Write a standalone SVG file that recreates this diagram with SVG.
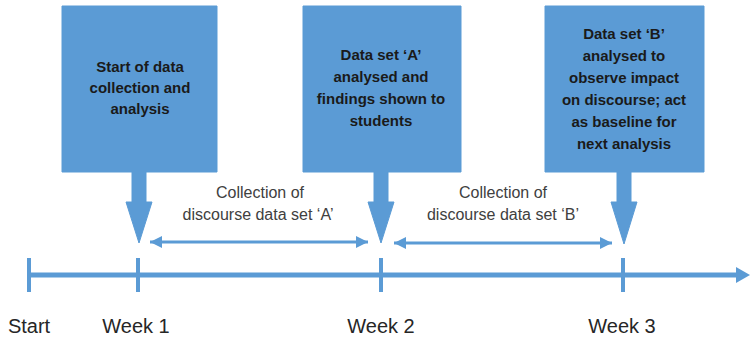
<svg xmlns="http://www.w3.org/2000/svg" width="750" height="342" viewBox="0 0 750 342">
<defs>
<style>
.shape{fill:#5B9BD5;stroke:#5B9BD5;stroke-width:1;stroke-linejoin:miter}
.box{font-family:"Liberation Sans",Arial,sans-serif;font-weight:bold;font-size:15px;fill:#1a1a1a;text-anchor:middle}
.lbl{font-family:"Liberation Sans",Arial,sans-serif;font-size:16px;fill:#404040;text-anchor:middle}
.wk{font-family:"Liberation Sans",Arial,sans-serif;font-size:20px;fill:#262626;text-anchor:middle}
.ln{stroke:#5B9BD5;fill:none}
</style>
<marker id="ah" viewBox="0 0 10 10" refX="10" refY="5" markerWidth="4" markerHeight="4" orient="auto-start-reverse" markerUnits="strokeWidth">
<path d="M0,0 L10,5 L0,10 z" fill="#5B9BD5"/>
</marker>
<marker id="bigah" viewBox="0 0 10 10" refX="10" refY="5" markerWidth="3" markerHeight="3.2" orient="auto" markerUnits="strokeWidth">
<path d="M0,0 L10,5 L0,10 z" fill="#5B9BD5"/>
</marker>
</defs>

<g id="timeline">
<line class="ln" x1="29" y1="275" x2="737" y2="275" stroke-width="5"/>
<path d="M736,267 L750,275 L736,283 z" fill="#5B9BD5"/>
<line class="ln" x1="29" y1="258" x2="29" y2="292" stroke-width="4"/>
<line class="ln" x1="138" y1="258" x2="138" y2="292" stroke-width="4"/>
<line class="ln" x1="381" y1="258" x2="381" y2="292" stroke-width="4"/>
<line class="ln" x1="623" y1="258" x2="623" y2="292" stroke-width="4"/>
<text class="wk" x="29" y="333">Start</text>
<text class="wk" x="136" y="333">Week 1</text>
<text class="wk" x="381" y="333">Week 2</text>
<text class="wk" x="622" y="333">Week 3</text>
</g>

<g id="node1">
<path class="shape" d="M62,6 H217 V172 H146 V202 H152 L139,243 L126,202 H132 V172 H62 Z"/>
<text class="box" x="140" y="72">Start of data</text>
<text class="box" x="140" y="93">collection and</text>
<text class="box" x="140" y="114">analysis</text>
</g>

<g id="node2">
<path class="shape" d="M303,6 H461 V172 H388 V202 H394 L381,243 L368,202 H374 V172 H303 Z"/>
<text class="box" x="381" y="60">Data set ‘A’</text>
<text class="box" x="381" y="82">analysed and</text>
<text class="box" x="381" y="104">findings shown to</text>
<text class="box" x="381" y="126">students</text>
</g>

<g id="node3">
<path class="shape" d="M545,6 H704 V172 H631 V202 H637 L624,244 L611,202 H617 V172 H545 Z"/>
<text class="box" x="624" y="39">Data set ‘B’</text>
<text class="box" x="624" y="61">analysed to</text>
<text class="box" x="624" y="83">observe impact</text>
<text class="box" x="624" y="105">on discourse; act</text>
<text class="box" x="624" y="127">as baseline for</text>
<text class="box" x="624" y="149">next analysis</text>
</g>

<g id="connectors">
<line class="ln" x1="150" y1="242" x2="368" y2="242" stroke-width="3" marker-start="url(#ah)" marker-end="url(#ah)"/>
<line class="ln" x1="394" y1="243" x2="612" y2="243" stroke-width="3" marker-start="url(#ah)" marker-end="url(#ah)"/>
</g>

<g id="labels">
<text class="lbl" x="260" y="198">Collection of</text>
<text class="lbl" x="258" y="220">discourse data set ‘A’</text>
<text class="lbl" x="503" y="198">Collection of</text>
<text class="lbl" x="503" y="220">discourse data set ‘B’</text>
</g>
</svg>
